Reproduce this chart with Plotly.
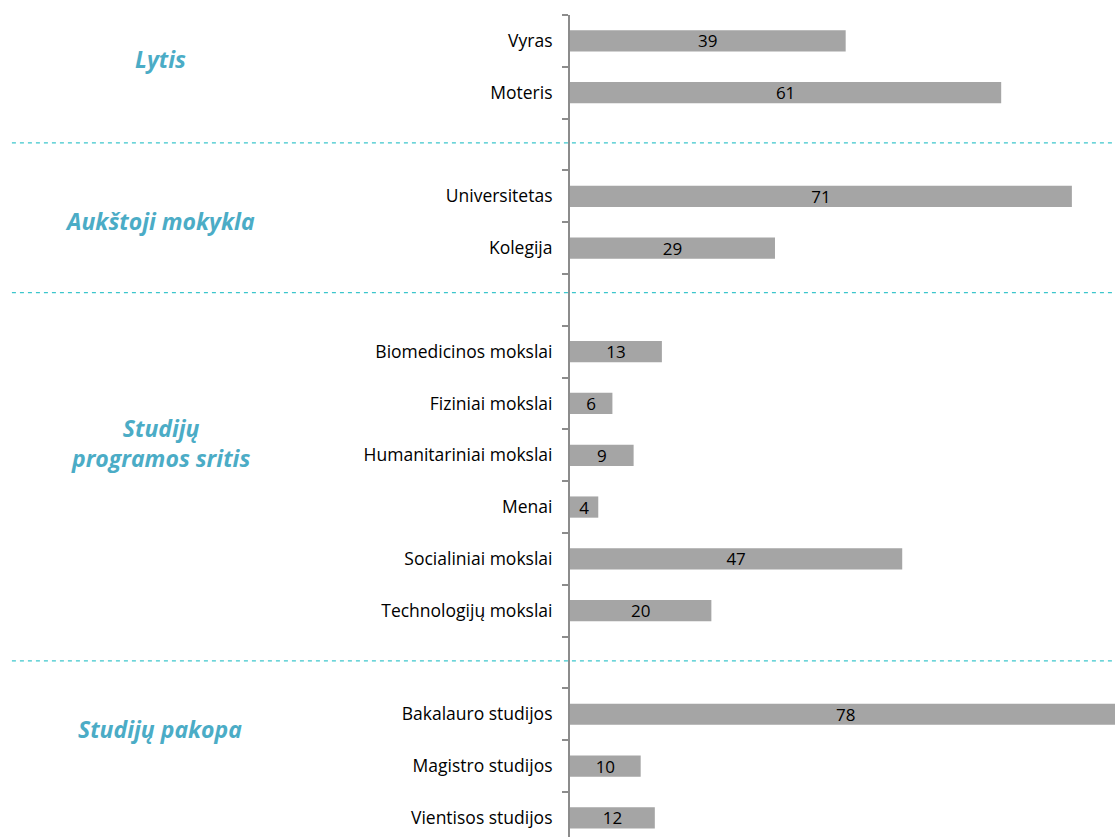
import plotly.graph_objects as go

# Data
categories = ["Vyras", "Moteris", "",
              "Universitetas", "Kolegija", "",
              "Biomedicinos mokslai", "Fiziniai mokslai", "Humanitariniai mokslai",
              "Menai", "Socialiniai mokslai", "Technologijų mokslai", "",
              "Bakalauro studijos", "Magistro studijos", "Vientisos studijos"]
values = [39, 61, None,
          71, 29, None,
          13, 6, 9, 4, 47, 20, None,
          78, 10, 12]
group_labels = ["Lytis", "Aukštoji mokykla", "Studijų<br>programos sritis", "Studijų pakopa"]
group_label_pos = [0.35, 3.47, 7.76, 13.28]
separator_pos = [1.97, 4.86, 11.97]

FONT = "Open Sans"
ypos = list(range(len(categories)))

fig = go.Figure()
fig.add_trace(go.Bar(
    x=values, y=ypos, orientation="h",
    marker=dict(color="#A5A5A5", line=dict(width=0)),
    width=0.41,
    text=[("" if v is None else str(v)) for v in values],
    textposition="inside", insidetextanchor="middle", textangle=0,
    textfont=dict(family=FONT, size=17, color="black"),
    constraintext="none",
    hoverinfo="skip",
))

shapes = []
for s in separator_pos:
    shapes.append(dict(type="line", xref="paper", yref="y", x0=-1.024, x1=1.0, y0=s, y1=s,
                       line=dict(color="#3CC6CC", width=1.2, dash="4px,4px"), layer="below"))

annotations = []
for lab, p in zip(group_labels, group_label_pos):
    annotations.append(dict(text="<b><i>" + lab + "</i></b>", xref="paper", yref="y",
                            x=-0.752, y=p, xanchor="center", yanchor="middle",
                            showarrow=False,
                            font=dict(family=FONT, size=23, color="#4BACC6")))

fig.update_layout(
    width=1115, height=837,
    margin=dict(l=570, r=0, t=15, b=0),
    paper_bgcolor="white", plot_bgcolor="white",
    showlegend=False,
    shapes=shapes, annotations=annotations,
    xaxis=dict(visible=False, range=[0, 77.1], fixedrange=True),
    yaxis=dict(range=[15.37, -0.5], tickmode="array", tickvals=ypos, ticktext=categories,
               ticks="", showgrid=False, zeroline=False, fixedrange=True,
               showline=True, linecolor="#8C8C8C", linewidth=2,
               ticklabelstandoff=12,
               tickfont=dict(family=FONT, size=17.5, color="black"),
               minor=dict(ticks="outside", ticklen=6, tickcolor="#8C8C8C", tickwidth=1.5,
                          tick0=-0.5, dtick=1, showgrid=False)),
)

fig.write_html("out.html", config={"displayModeBar": False},
               post_script="document.body.style.margin='0';document.body.style.overflow='hidden';")
